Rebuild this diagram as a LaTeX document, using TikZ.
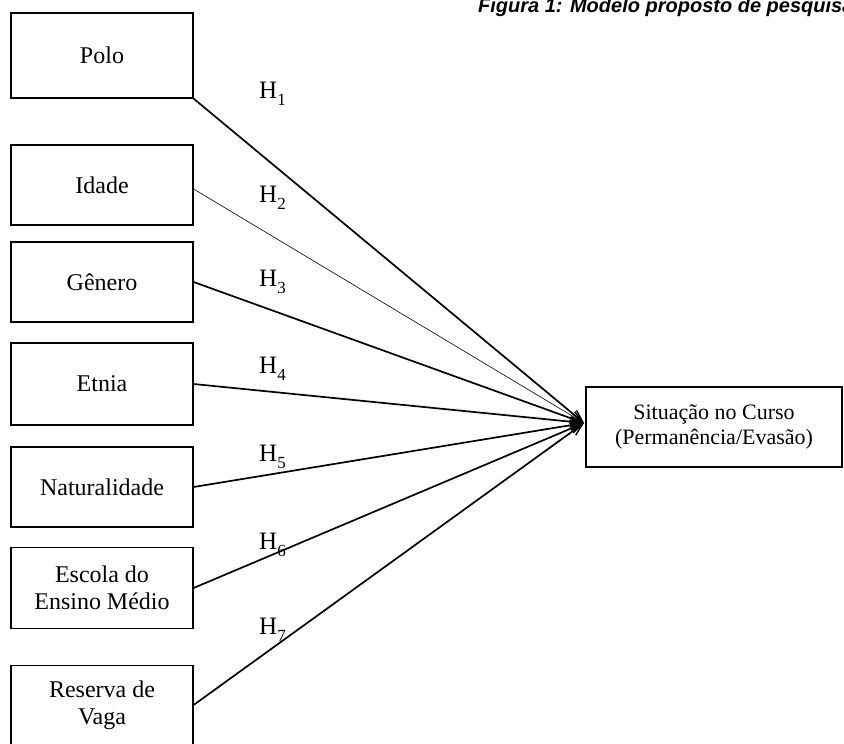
\documentclass[tikz,border=0pt]{standalone}
\usepackage{fontspec}
\setmainfont{Liberation Serif}
\newfontfamily\titlefont{Liberation Sans}
\usetikzlibrary{arrows.meta}
\newcommand{\hsub}[1]{H\raisebox{-0.28em}{\fontsize{17}{17}\selectfont #1}}
\begin{document}
\begin{tikzpicture}[x=1pt,y=-1pt,
  varbox/.style={draw, line width=1.2pt, inner sep=0pt, minimum width=182pt, align=center,
     font=\fontsize{24}{27}\selectfont},
  arr/.style={line width=1.7pt, -{Straight Barb[length=12pt,width=10pt,line width=1.4pt]}},
  thinarr/.style={line width=0.6pt, -{Straight Barb[length=12pt,width=10pt,line width=1.4pt]}},
  hlab/.style={anchor=west, inner sep=0pt, font=\fontsize{25}{28}\selectfont}]
\useasboundingbox (0,0) rectangle (844,744);
\fill[white] (0,0) rectangle (844,744);
\begin{scope}
\clip (0,0) rectangle (844,744);
\node[anchor=base west, inner sep=0pt, font=\titlefont\bfseries\itshape\fontsize{20}{23}\selectfont] (title) at (478,12.5) {Figura 1: Modelo proposto de pesquisa};
\end{scope}
% boxes
\node[varbox, minimum height=85pt] (polo) at (102,55.5) {Polo};
\node[varbox, minimum height=80pt] (idade) at (102,185) {Idade};
\node[varbox, minimum height=80pt] (genero) at (102,282) {Gênero};
\node[varbox, minimum height=82pt] (etnia) at (102,384) {Etnia};
\node[varbox, minimum height=80pt] (natur) at (102,487) {Naturalidade};
\node[varbox, minimum height=81pt] (escola) at (102,588) {Escola do\\Ensino Médio};
\node[varbox, minimum height=79pt] (reserva) at (102,705) {Reserva de\\Vaga};
\node[draw, line width=1.2pt, inner sep=0pt, minimum width=256pt, minimum height=80pt, align=center,
  font=\fontsize{22}{25}\selectfont] (sit) at (714,427) {Situação no Curso\\(Permanência/Evasão)};
\coordinate (tip) at (584,423);
% connectors
\draw[arr] (polo.south east) -- (tip);
\draw[thinarr] ([yshift=-4pt]idade.east) -- (tip);
\draw[arr] (genero.east) -- (tip);
\draw[arr] (etnia.east) -- (tip);
\draw[arr] (natur.east) -- (tip);
\draw[arr] (escola.east) -- (tip);
\draw[arr] (reserva.east) -- (tip);
% labels
\node[hlab] (h1) at (259,94) {\hsub{1}};
\node[hlab] (h2) at (259,198) {\hsub{2}};
\node[hlab] (h3) at (259,282) {\hsub{3}};
\node[hlab] (h4) at (259,369) {\hsub{4}};
\node[hlab] (h5) at (259,457) {\hsub{5}};
\node[hlab] (h6) at (259,545) {\hsub{6}};
\node[hlab] (h7) at (259,630) {\hsub{7}};
\end{tikzpicture}
\end{document}
